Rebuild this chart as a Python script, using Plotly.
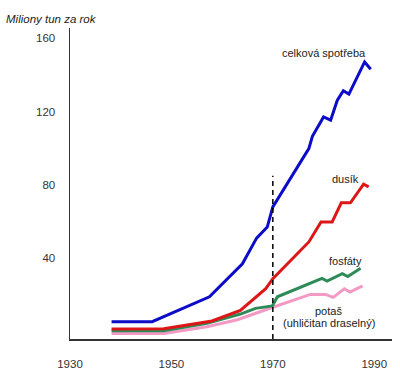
import plotly.graph_objects as go

# Data
years_total = [1938.2, 1946.2, 1957.5, 1964.0, 1966.8, 1968.9, 1970.0, 1977.1, 1977.8,
               1980.0, 1981.4, 1982.7, 1983.9, 1985.0, 1988.1, 1989.3]
total = [5.4, 5.4, 19, 37, 51, 57, 68, 99.8, 106.5, 117, 115.3, 126, 131.3, 129.5, 147, 143]

years_n = [1938.2, 1948.5, 1958.0, 1963.6, 1968.6, 1970.0, 1977.1, 1979.5, 1981.7,
           1983.5, 1985.3, 1987.9, 1988.9]
nitrogen = [1.4, 1.6, 5.8, 11.6, 23.4, 28.9, 48.9, 59.8, 59.8, 70.2, 70.2, 80.4, 78.9]

years_p = [1938.2, 1948.5, 1957.0, 1963.6, 1966.6, 1969.9, 1970.9, 1979.7, 1980.7,
           1983.7, 1984.8, 1987.3]
phosphate = [0.5, 0.5, 4.5, 9.6, 12.7, 14.0, 19.0, 29.0, 27.6, 31.6, 30.0, 34.5]

years_k = [1938.2, 1948.5, 1957.0, 1963.0, 1970.0, 1977.4, 1980.4, 1981.9, 1984.1,
           1985.2, 1987.7]
potash = [-1.0, -1.0, 2.7, 6.5, 13.3, 20.3, 20.3, 18.7, 23.4, 21.6, 25.0]

x_ticks = [1930, 1950, 1970, 1990]
y_ticks = [40, 80, 120, 160]
marker_year = 1970
marker_top = 85

FONT = "Liberation Sans, Arial, sans-serif"

fig = go.Figure()
series = [
    (years_k, potash, "#f29ac4"),
    (years_p, phosphate, "#2e8b57"),
    (years_n, nitrogen, "#dd1616"),
    (years_total, total, "#0b0bc8"),
]
for xs, ys, col in series:
    fig.add_trace(go.Scatter(x=xs, y=ys, mode="lines",
                             line=dict(color=col, width=3), showlegend=False,
                             hoverinfo="skip"))

fig.add_shape(type="line", xref="x", yref="y", x0=marker_year, x1=marker_year,
              y0=-4, y1=marker_top, line=dict(color="black", width=1.5, dash="5px,4px"))

ann = [
    (1980.0, 152, "celková spotřeba"),
    (1984.3, 83, "dusík"),
    (1984.3, 38.5, "fosfáty"),
    (1981.0, 11.3, "potaš"),
    (1981.0, 4.5, "(uhličitan draselný)"),
]
for ax_, ay_, txt in ann:
    fig.add_annotation(x=ax_, y=ay_, xref="x", yref="y", text=txt, showarrow=False,
                       font=dict(family=FONT, size=11, color="#222"),
                       xanchor="center", yanchor="middle")

fig.add_annotation(x=(52 - 70) / (391.7 - 70), y=(339 - 19) / (339 - 28),
                   xref="paper", yref="paper", text="<i>Miliony tun za rok</i>",
                   showarrow=False, font=dict(family=FONT, size=11.5, color="#222"),
                   xanchor="center", yanchor="middle")

fig.update_layout(
    width=400, height=379,
    margin=dict(l=70, r=8.3, t=28, b=40, pad=0),
    paper_bgcolor="white", plot_bgcolor="white",
    font=dict(family=FONT, size=11.5, color="#333"),
    xaxis=dict(range=[1930, 1993.5], tickvals=x_ticks, ticktext=[str(v) for v in x_ticks],
               showgrid=False, zeroline=False, showline=True, linecolor="#333",
               linewidth=1.5, ticks="outside", ticklen=0, ticklabelstandoff=14),
    yaxis=dict(range=[-4, 165.5], tickvals=y_ticks, ticktext=[str(v) for v in y_ticks],
               showgrid=False, zeroline=False, showline=True, linecolor="#333",
               linewidth=1.5, ticks="outside", ticklen=0, ticklabelstandoff=11),
)

fig.write_html("out.html", config={"displayModeBar": False, "staticPlot": True},
               post_script="document.body.style.margin='0';document.body.style.overflow='hidden';")
